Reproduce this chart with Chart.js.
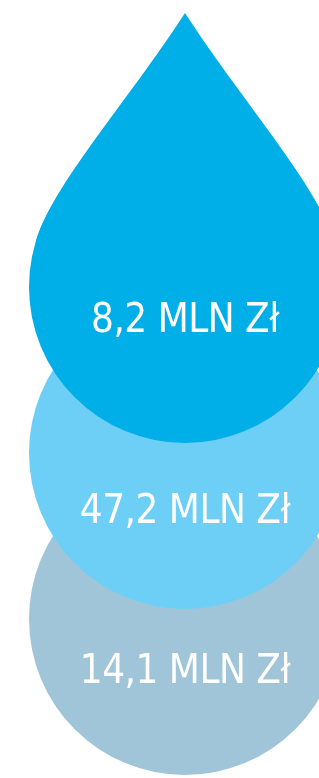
<!DOCTYPE html>
<html>
<head>
<meta charset="utf-8">
<script src="https://cdn.jsdelivr.net/npm/chart.js@4/dist/chart.umd.min.js"></script>
<style>
  html, body { margin: 0; padding: 0; background: #fff; overflow: hidden; }
  #wrap { width: 319px; height: 778px; overflow: hidden; }
</style>
</head>
<body>
<div id="wrap"><canvas id="drops" width="370" height="778"></canvas></div>
<script>
// values in mln zł, top to bottom
const values = [8.2, 47.2, 14.1]
const rows = [0, 1, 2]
const unit = 'MLN Zł'
const colors = ['#00AEE8', '#6DCFF6', '#A0C5D8']

const fmtVal = v => v.toFixed(1).replace('.', ',') + ' ' + unit

// pointed top on the first bubble, so it reads as a drop
const dropTip = {
  id: 'dropTip',
  afterDatasetsDraw(chart) {
    const el = chart.getDatasetMeta(0).data[0]
    if (!el) return
    const { x, y } = el
    const r = el.options.radius
    const tipY = y - r * 1.757
    const a = 0.3
    const px = r * Math.cos(a), py = -r * Math.sin(a)
    const s1 = r * 0.7, s2 = r * 0.385
    // tip handle leaves at a slight outward angle
    const tx = 0.545, ty = 0.838
    const ctx = chart.ctx
    ctx.save()
    ctx.fillStyle = colors[0]
    ctx.beginPath()
    ctx.moveTo(x, tipY)
    ctx.bezierCurveTo(x - tx * s1, tipY + ty * s1, x - px + Math.sin(a) * s2, y + py - Math.cos(a) * s2, x - px, y + py)
    ctx.lineTo(x, y)
    ctx.lineTo(x + px, y + py)
    ctx.bezierCurveTo(x + px - Math.sin(a) * s2, y + py - Math.cos(a) * s2, x + tx * s1, tipY + ty * s1, x, tipY)
    ctx.closePath()
    ctx.fill()
    ctx.restore()
  },
}

const dropLabels = {
  id: 'dropLabels',
  afterDraw(chart, args, opts) {
    const ctx = chart.ctx
    ctx.save()
    ctx.fillStyle = '#fff'
    ctx.textAlign = 'center'
    ctx.textBaseline = 'middle'
    ctx.font = opts.font
    ctx.letterSpacing = opts.spacing
    values.forEach((v, i) => {
      const el = chart.getDatasetMeta(i).data[0]
      ctx.fillText(fmtVal(v), el.x, el.y + opts.offsets[i])
    })
    ctx.restore()
  },
}

new Chart(document.getElementById('drops'), {
  type: 'bubble',
  data: {
    datasets: values.map((v, i) => ({
      label: fmtVal(v),
      data: [{ x: 0, y: rows[i] }],
      backgroundColor: colors[i],
      borderWidth: 0,
      radius: 156,
      hoverRadius: 0,
      clip: false,
    })),
  },
  options: {
    responsive: false,
    animation: false,
    events: [],
    layout: { padding: 0, autoPadding: false },
    scales: {
      x: { type: 'linear', display: false, min: -1, max: 1 },
      y: { type: 'linear', display: false, reverse: true, min: -1.729, max: 2.958 },
    },
    plugins: {
      legend: { display: false },
      tooltip: { enabled: false },
      dropLabels: {
        font: '40px "DejaVu Sans Condensed", sans-serif',
        spacing: '-0.5px',
        offsets: [35, 60, 54],
      },
    },
  },
  plugins: [dropTip, dropLabels],
})
</script>
</body>
</html>
